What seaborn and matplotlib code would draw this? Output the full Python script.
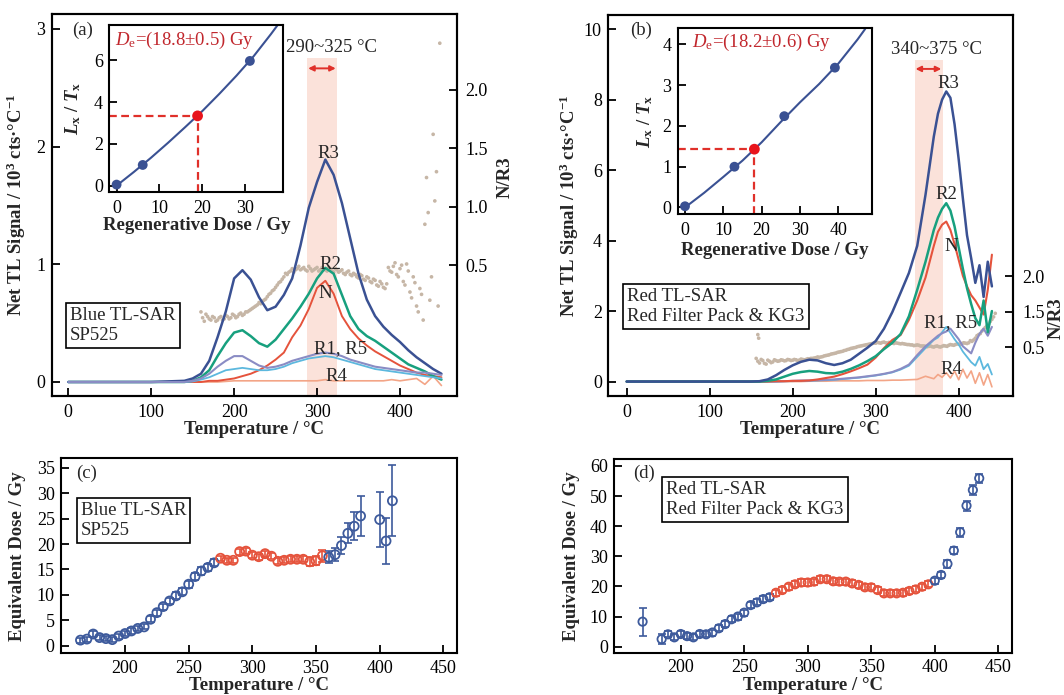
import numpy as np
import matplotlib
matplotlib.use("Agg")
import matplotlib.pyplot as plt
import seaborn as sns

sns.set_style("ticks")
plt.rcParams['font.family'] = ['Liberation Serif', 'DejaVu Serif']
plt.rcParams['mathtext.fontset'] = 'custom'
plt.rcParams['mathtext.rm'] = 'Liberation Serif'
plt.rcParams['mathtext.it'] = 'Liberation Serif:italic'
plt.rcParams['mathtext.bf'] = 'Liberation Serif:bold'
plt.rcParams['mathtext.bfit'] = 'Liberation Serif:italic:bold'

# ---------------- data: panel (a) glow curves ----------------
t_a = [0, 100, 140, 150, 160, 170, 180, 190, 200, 210, 220, 230, 240, 250, 260, 270, 280,
       290, 300, 310, 320, 330, 340, 350, 360, 370, 380, 390, 400, 410, 420, 430, 440, 450]
r3_a = [0, 0, 0.01, 0.03, 0.07, 0.18, 0.38, 0.60, 0.88, 0.95, 0.87, 0.72, 0.61, 0.64, 0.74, 0.88,
        1.16, 1.48, 1.70, 1.89, 1.76, 1.52, 1.22, 0.92, 0.70, 0.56, 0.47, 0.40, 0.34, 0.27, 0.21,
        0.16, 0.11, 0.07]
r2_a = [0, 0, 0, 0.01, 0.04, 0.10, 0.22, 0.33, 0.42, 0.44, 0.39, 0.33, 0.30, 0.36, 0.45, 0.54,
        0.64, 0.75, 0.88, 0.97, 0.92, 0.74, 0.56, 0.45, 0.39, 0.35, 0.30, 0.25, 0.20, 0.15, 0.12,
        0.09, 0.05, 0.02]
n_a = [0, 0, 0, 0, 0, 0.01, 0.01, 0.02, 0.03, 0.05, 0.07, 0.10, 0.14, 0.19, 0.25, 0.38, 0.48,
       0.62, 0.80, 0.86, 0.75, 0.56, 0.45, 0.37, 0.31, 0.26, 0.22, 0.18, 0.14, 0.11, 0.08, 0.06,
       0.05, 0.04]
r1_a = [0, 0, 0, 0.01, 0.03, 0.07, 0.13, 0.18, 0.22, 0.22, 0.18, 0.14, 0.12, 0.13, 0.15, 0.18,
        0.20, 0.22, 0.24, 0.25, 0.24, 0.22, 0.19, 0.17, 0.15, 0.13, 0.12, 0.11, 0.10, 0.09, 0.08,
        0.08, 0.07, 0.06]
r5_a = [0, 0, 0, 0.005, 0.02, 0.04, 0.07, 0.10, 0.11, 0.12, 0.11, 0.10, 0.10, 0.11, 0.13, 0.16,
        0.18, 0.20, 0.21, 0.22, 0.21, 0.19, 0.17, 0.15, 0.13, 0.11, 0.10, 0.09, 0.08, 0.07, 0.06,
        0.05, 0.04, 0.03]
r4_a = [0, 0, 0, 0, 0, 0, 0, 0.005, 0.01, 0.01, 0.01, 0.01, 0.01, 0.01, 0.01, 0.01, 0.01, 0.01,
        0.01, 0.02, 0.01, 0.01, 0.01, 0.01, 0.01, 0.01, 0.01, 0.02, 0.01, 0.02, 0.03, -0.02, 0.05,
        -0.03]

# N/R3 ratio dots (a)
nr_a_t1 = list(range(160, 452, 4))
nr_a_v1 = [0.10, 0.02, 0.06, 0.03, 0.05, 0.03, 0.06, 0.04, 0.06, 0.05, 0.07, 0.06, 0.09, 0.08,
           0.10, 0.12, 0.14, 0.16, 0.17, 0.20, 0.23, 0.26, 0.29, 0.33, 0.36, 0.40, 0.42, 0.45,
           0.44, 0.47, 0.46, 0.48, 0.45, 0.47, 0.46, 0.48, 0.46, 0.47, 0.45, 0.47, 0.44, 0.46,
           0.45, 0.43, 0.44, 0.42, 0.43, 0.40, 0.42, 0.38, 0.40, 0.36, 0.38, 0.33, 0.36, 0.31,
           0.34, 0.45, 0.49, 0.42, 0.47, 0.36, 0.51, 0.27, 0.40, 0.15, 0.30, 0.03, 1.25, 0.20,
           1.62, 1.30, 2.40]
nr_a_t2 = list(range(162, 450, 4))
nr_a_v2 = [0.05, 0.08, 0.04, 0.06, 0.02, 0.05, 0.03, 0.07, 0.04, 0.08, 0.05, 0.08, 0.07, 0.10,
           0.11, 0.13, 0.15, 0.18, 0.19, 0.21, 0.25, 0.28, 0.31, 0.35, 0.38, 0.43, 0.44, 0.47,
           0.46, 0.49, 0.47, 0.46, 0.49, 0.45, 0.47, 0.45, 0.48, 0.46, 0.48, 0.45, 0.47, 0.44,
           0.46, 0.42, 0.45, 0.41, 0.42, 0.39, 0.41, 0.37, 0.39, 0.35, 0.37, 0.32, 0.34, 0.30,
           0.48, 0.44, 0.52, 0.40, 0.50, 0.33, 0.45, 0.22, 0.35, 0.10, 0.25, 0.85, 0.95, 0.40,
           1.05, 0.15]

# ---------------- data: panel (b) glow curves ----------------
t_b = [0, 100, 150, 160, 170, 180, 190, 200, 210, 220, 230, 240, 250, 260, 270, 280, 290, 300,
       310, 320, 330, 340, 350, 360, 370, 375, 380, 385, 390, 395, 400, 405, 410, 415, 420, 425,
       430, 435, 440]
r3_b = [0, 0, 0, 0.01, 0.06, 0.18, 0.33, 0.46, 0.56, 0.62, 0.60, 0.52, 0.47, 0.52, 0.62, 0.79,
        0.96, 1.15, 1.50, 1.97, 2.52, 3.08, 3.85, 5.30, 6.95, 7.60, 8.00, 8.23, 8.05, 7.30, 6.30,
        5.20, 4.15, 3.50, 2.80, 3.30, 2.40, 3.40, 2.70]
r2_b = [0, 0, 0, 0, 0.02, 0.06, 0.14, 0.22, 0.27, 0.30, 0.28, 0.24, 0.23, 0.28, 0.36, 0.46, 0.58,
        0.72, 0.92, 1.10, 1.35, 1.85, 2.60, 3.40, 4.30, 4.65, 4.90, 5.06, 4.85, 4.40, 3.80, 3.20,
        2.65, 2.20, 1.80, 1.60, 2.30, 1.40, 2.00]
n_b = [0, 0, 0, 0, 0, 0.01, 0.01, 0.02, 0.02, 0.03, 0.06, 0.10, 0.14, 0.21, 0.29, 0.38, 0.48,
       0.68, 0.95, 1.18, 1.32, 1.75, 2.30, 2.95, 3.85, 4.25, 4.45, 4.54, 4.30, 3.90, 3.45, 3.00,
       2.70, 2.45, 2.30, 2.10, 1.90, 2.60, 3.60]
r1_b = [0, 0, 0, 0, 0, 0, 0.01, 0.02, 0.03, 0.03, 0.04, 0.05, 0.06, 0.08, 0.10, 0.12, 0.15, 0.18,
        0.22, 0.27, 0.36, 0.48, 0.75, 1.00, 1.20, 1.30, 1.37, 1.42, 1.50, 1.35, 1.20, 1.00, 0.90,
        0.80, 1.10, 1.35, 1.50, 1.30, 1.55]
r5_b = [0, 0, 0, 0, 0, 0, 0.01, 0.01, 0.02, 0.02, 0.03, 0.04, 0.05, 0.07, 0.09, 0.11, 0.14, 0.17,
        0.21, 0.26, 0.34, 0.45, 0.70, 0.95, 1.18, 1.25, 1.40, 1.55, 1.38, 1.20, 1.05, 0.85, 0.70,
        0.55, 0.45, 0.70, 0.35, 0.50, 0.20]
r4_b = [0, 0, 0, 0, 0, 0, 0, 0, 0, 0.01, 0.01, 0.01, 0.02, 0.02, 0.02, 0.02, 0.03, 0.03, 0.03,
        0.04, 0.04, 0.05, 0.06, 0.15, 0.08, 0.20, 0.12, 0.25, 0.10, 0.30, 0.05, 0.35, 0.10, 0.30,
        -0.05, 0.25, -0.10, 0.20, -0.15]

nr_b_t1 = list(range(156, 448, 4))
nr_b_v1 = [0.18, 0.05, 0.12, 0.02, 0.10, 0.08, 0.12, 0.11, 0.13, 0.12, 0.14, 0.13, 0.14, 0.13,
           0.15, 0.15, 0.17, 0.18, 0.20, 0.21, 0.23, 0.26, 0.28, 0.31, 0.33, 0.36, 0.38, 0.41,
           0.44, 0.47, 0.49, 0.52, 0.54, 0.56, 0.58, 0.60, 0.61, 0.62, 0.63, 0.62, 0.63, 0.61,
           0.62, 0.60, 0.60, 0.58, 0.57, 0.56, 0.55, 0.55, 0.53, 0.52, 0.52, 0.51, 0.52, 0.51,
           0.52, 0.53, 0.55, 0.56, 0.57, 0.58, 0.60, 0.61, 0.62, 0.66, 0.75, 0.85, 0.95, 1.05,
           1.15, 1.28, 1.45]
nr_b_t2 = list(range(158, 446, 4))
nr_b_v2 = [0.10, 0.15, 0.04, 0.13, 0.06, 0.14, 0.10, 0.14, 0.11, 0.15, 0.12, 0.15, 0.12, 0.16,
           0.14, 0.17, 0.18, 0.19, 0.22, 0.22, 0.25, 0.27, 0.30, 0.32, 0.35, 0.37, 0.40, 0.43,
           0.46, 0.48, 0.51, 0.53, 0.55, 0.57, 0.59, 0.61, 0.63, 0.61, 0.64, 0.61, 0.62, 0.60,
           0.61, 0.59, 0.59, 0.57, 0.56, 0.54, 0.56, 0.53, 0.53, 0.51, 0.53, 0.50, 0.53, 0.50,
           0.54, 0.52, 0.57, 0.55, 0.59, 0.57, 0.62, 0.60, 0.68, 0.70, 0.82, 0.88, 1.00, 1.10,
           1.22, 1.35]
nr_b_out_t = [158, 159, 166]
nr_b_out_v = [0.85, 0.75, 1.66]

# ---------------- data: dose-response insets ----------------
dose_a = [0, 6.1, 31.1]
lt_a = [0.05, 0.99, 5.97]
fit_a_x = [0, 4, 8, 12, 16, 20, 24, 28, 32, 36, 37.7]
fit_a_y = [0, 0.65, 1.33, 2.05, 2.80, 3.57, 4.40, 5.27, 6.20, 7.25, 7.72]
de_a, ltn_a = 18.9, 3.34

dose_b = [0, 12.9, 25.9, 39.1]
lt_b = [0.03, 1.0, 2.24, 3.43]
fit_b_x = [0, 5, 10, 15, 20, 25, 30, 35, 40, 45, 47]
fit_b_y = [0, 0.36, 0.75, 1.15, 1.60, 2.10, 2.58, 3.03, 3.53, 4.12, 4.38]
de_b, ltn_b = 18.1, 1.43

# ---------------- data: panel (c) De plateau ----------------
c_t_blue1 = list(range(165, 275, 5))
c_de_blue1 = [1.1, 1.3, 2.3, 1.6, 1.4, 1.2, 1.9, 2.4, 2.9, 3.4, 3.7, 5.2, 6.5, 7.7, 8.8, 9.8,
              10.6, 12.1, 13.6, 14.7, 15.4, 16.3]
c_err_blue1 = [0.5] * 11 + [0.6] * 4 + [0.7] * 7
c_t_red = list(range(275, 360, 5))
c_de_red = [17.2, 16.8, 16.8, 18.5, 18.6, 17.8, 17.5, 18.1, 17.6, 16.6, 16.8, 17.0, 17.0, 17.0,
            16.5, 16.7, 17.7]
c_err_red = [0.5, 0.5, 0.5, 0.6, 0.6, 0.6, 0.6, 0.6, 0.6, 0.6, 0.6, 0.6, 0.6, 0.6, 0.9, 0.9, 1.2]
c_t_blue2 = [360, 365, 370, 375, 380, 385, 400, 405, 410]
c_de_blue2 = [17.4, 17.9, 19.7, 22.1, 23.5, 25.5, 24.8, 20.6, 28.5]
c_err_blue2 = [1.2, 1.3, 1.6, 2.0, 2.7, 4.0, 5.4, 4.6, 7.0]

# ---------------- data: panel (d) De plateau ----------------
d_t_blue1 = [170] + list(range(185, 275, 5))
d_de_blue1 = [8.3, 2.5, 4.1, 3.1, 4.2, 3.5, 3.1, 4.2, 4.1, 4.7, 6.1, 7.5, 9.1, 10.0, 11.3, 13.8,
              14.7, 15.8, 16.4]
d_err_blue1 = [4.6, 1.6] + [1.0] * 17
d_t_red = list(range(275, 400, 5))
d_de_red = [17.9, 18.8, 19.9, 20.7, 21.3, 21.3, 21.6, 22.4, 22.4, 21.7, 21.6, 21.6, 21.0, 20.5,
            19.7, 19.7, 18.8, 17.7, 17.7, 17.7, 17.9, 18.5, 19.0, 19.9, 20.7]
d_err_red = [1.0] * 25
d_t_blue2 = list(range(400, 440, 5))
d_de_blue2 = [21.9, 23.8, 27.5, 31.9, 38.0, 46.8, 52.0, 55.9]
d_err_blue2 = [1.0, 1.0, 1.3, 1.3, 1.5, 1.6, 1.6, 1.5]

# ---------------- styles ----------------
C_R3 = "#3a5193"
C_R2 = "#17a07e"
C_N = "#e5533c"
C_R1 = "#8a8cc4"
C_R5 = "#5cb8de"
C_R4 = "#f3a587"
C_DOT = "#c6b6a6"
C_SHADE = "#fbe2da"
C_RED = "#e0302a"
C_DE = "#c1272d"
C_BLUE = "#3d5a9c"
C_PTRED = "#e8141c"

FS_TICK = 13
FS_LAB = 13.5
FS_TXT = 13.5

W, H = 1064, 695
fig = plt.figure(figsize=(W / 100, H / 100), dpi=100)


def fpos(l, t, r, b):
    return [l / W, (H - b) / H, (r - l) / W, (b - t) / H]


def style_axis(ax, left=True, bottom=True, right=False, xpad=6):
    for s in ax.spines.values():
        s.set_linewidth(1.5)
        s.set_color("black")
    ax.tick_params(axis="both", direction="in", length=6, width=1.3, labelsize=FS_TICK,
                   colors="black", top=False, right=right, left=left, bottom=bottom)
    ax.tick_params(axis="y", pad=4.5)
    ax.tick_params(axis="x", pad=xpad)


def draw_tl(ax, ax2, t, curves, xlim, ylim, yticks, shade, shade_top, arrow_y, range_txt,
            range_xy, labels, box_txt, box_xy, letter, letter_xy, ylab_x, r_coords):
    ax.set_zorder(ax2.get_zorder() + 1)
    ax.patch.set_visible(False)
    ax2.axvspan(shade[0], shade[1], ymin=0, ymax=shade_top, color=C_SHADE, lw=0, zorder=0)
    for y, c, lw in curves:
        sns.lineplot(x=t, y=y, ax=ax, color=c, linewidth=lw, sort=False, estimator=None)
    ax.set_xlim(*xlim)
    ax.set_ylim(*ylim)
    ax.set_xticks([0, 100, 200, 300, 400])
    ax.set_yticks(yticks)
    ax.set_xlabel("Temperature / °C", fontsize=FS_LAB, fontweight="bold")
    ax.set_ylabel(r"Net TL Signal / 10$^{\mathbf{3}}$ cts·°C$^{\mathbf{-1}}$",
                  fontsize=FS_LAB, fontweight="bold")
    ax.xaxis.set_label_coords(0.5, -0.066)
    ax.yaxis.set_label_coords(ylab_x, 0.5)
    style_axis(ax)
    style_axis(ax2, left=False, bottom=False, right=True)
    ax2.tick_params(axis="y", pad=6.5)
    ax2.set_ylabel("N/R3", fontsize=FS_LAB, fontweight="bold", rotation=90)
    ax2.yaxis.set_label_coords(*r_coords)
    ax.annotate("", xy=(shade[0] + 1, arrow_y), xytext=(shade[1] - 2, arrow_y),
                arrowprops=dict(arrowstyle="<|-|>", color=C_RED, lw=1.4, mutation_scale=8,
                                shrinkA=0, shrinkB=0))
    ax.text(range_xy[0], range_xy[1], range_txt, fontsize=FS_TXT, ha="center", va="center")
    for s, (x, y) in labels:
        ax.text(x, y, s, fontsize=FS_TXT, ha="center", va="center")
    ax.text(box_xy[0], box_xy[1], box_txt, transform=ax.transAxes, fontsize=FS_TXT,
            ha="left", va="top", linespacing=1.2,
            bbox=dict(boxstyle="square,pad=0.22", fc="white", ec="black", lw=1.2))
    ax.text(letter_xy[0], letter_xy[1], letter, transform=ax.transAxes, fontsize=FS_TXT,
            ha="center", va="center")


# ================= panel (a) =================
ax_a = fig.add_axes(fpos(51.7, 14, 456.7, 396))
ax_a2 = ax_a.twinx()
for tt, vv in [(nr_a_t1, nr_a_v1), (nr_a_t2, nr_a_v2)]:
    sns.scatterplot(x=tt, y=vv, ax=ax_a2, color=C_DOT, s=7, edgecolor="none", zorder=2)
ax_a2.set_ylim(-0.62, 2.65)
ax_a2.set_yticks([0.5, 1.0, 1.5, 2.0])
ax_a2.set_yticklabels(["0.5", "1.0", "1.5", "2.0"])
draw_tl(ax_a, ax_a2, t_a,
        [(r4_a, C_R4, 1.2), (n_a, C_N, 1.4), (r2_a, C_R2, 1.8), (r3_a, C_R3, 1.8),
         (r5_a, C_R5, 1.3), (r1_a, C_R1, 1.5)],
        (-20.0, 468.4), (-0.119, 3.127), [0, 1, 2, 3],
        (288.3, 324.5), 0.884, 2.665, "290~325 °C", (318, 2.84),
        [("R3", (313.6, 1.94)), ("R2", (315.6, 1.0)), ("N", (309.6, 0.75)),
         ("R1, R5", (328.6, 0.286)), ("R4", (323.6, 0.045))],
        "Blue TL-SAR\nSP525", (0.045, 0.232), "(a)", (0.075, 0.958), -0.058, (1.099, 0.573))

# ================= panel (b) =================
ax_b = fig.add_axes(fpos(608, 15, 1013, 396))
ax_b2 = ax_b.twinx()
rp_v = [-20.0, 0.5, 1.5, 20.0]
rp_px = [347 + 20.5 * 35.5, 347.0, 311.5, 311.5 - 18.5 * 71]


def _fwd(v):
    return -np.interp(v, rp_v, rp_px)


def _inv(p):
    return np.interp(-np.asarray(p), rp_px[::-1], rp_v[::-1])


ax_b2.set_yscale("function", functions=(_fwd, _inv))
for tt, vv in [(nr_b_t1, nr_b_v1), (nr_b_t2, nr_b_v2), (nr_b_out_t, nr_b_out_v)]:
    sns.scatterplot(x=tt, y=vv, ax=ax_b2, color=C_DOT, s=7, edgecolor="none", zorder=2)
ax_b2.set_ylim(-0.88, 5.68)
ax_b2.set_yticks([0.5, 1.5, 2.0])
ax_b2.set_yticklabels(["0.5", "1.5", "2.0"])
ax_b2.yaxis.set_minor_locator(matplotlib.ticker.NullLocator())
draw_tl(ax_b, ax_b2, t_b,
        [(r4_b, C_R4, 1.2), (r5_b, C_R5, 1.3), (r1_b, C_R1, 1.5), (n_b, C_N, 1.5),
         (r2_b, C_R2, 1.8), (r3_b, C_R3, 1.8)],
        (-22.5, 465.4), (-0.41, 10.4), [0, 2, 4, 6, 8, 10],
        (347, 381), 0.882, 8.87, "340~375 °C", (372.7, 9.41),
        [("R3", (388, 8.47)), ("R2", (385.5, 5.3)), ("N", (391.5, 3.83)),
         ("R1, R5", (390, 1.67)), ("R4", (391.5, 0.33))],
        "Red TL-SAR\nRed Filter Pack & KG3", (0.047, 0.283), "(b)", (0.081, 0.961), -0.067,
        (1.086, 0.205))


# ================= insets =================
def draw_inset(pos, dose, lt, fx, fy, de, ltn, xlim, ylim, xticks, yticks, de_txt, de_xy, ylab_x):
    axi = fig.add_axes(pos)
    axi.set_zorder(5)
    axi.set_xlim(*xlim)
    axi.set_ylim(*ylim)
    sns.lineplot(x=fx, y=fy, ax=axi, color=C_R3, linewidth=1.5, sort=False, estimator=None)
    axi.plot([xlim[0], de], [ltn, ltn], color=C_RED, lw=1.6, ls=(0, (3.5, 2)))
    axi.plot([de, de], [ylim[0], ltn], color=C_RED, lw=1.6, ls=(0, (3.5, 2)))
    sns.scatterplot(x=dose, y=lt, ax=axi, color=C_R3, s=50, edgecolor="none", zorder=4)
    sns.scatterplot(x=[de], y=[ltn], ax=axi, color=C_PTRED, s=60, edgecolor="none", zorder=5)
    axi.set_xticks(xticks)
    axi.set_yticks(yticks)
    style_axis(axi)
    axi.set_xlabel("Regenerative Dose / Gy", fontsize=FS_LAB, fontweight="bold")
    axi.set_ylabel(r"$\mathbfit{L}_{\mathbf{x}}$ / $\mathbfit{T}_{\mathbf{x}}$",
                   fontsize=FS_LAB, fontweight="bold")
    axi.yaxis.set_label_coords(ylab_x, 0.5)
    axi.xaxis.set_label_coords(0.5, -0.15)
    axi.text(de_xy[0], de_xy[1], de_txt, fontsize=FS_TXT, color=C_DE, ha="left", va="center")
    return axi


draw_inset(fpos(109.3, 25, 283.3, 191.7), dose_a, lt_a, fit_a_x, fit_a_y, de_a, ltn_a,
           (-1.7, 38.9), (-0.29, 7.69), [0, 10, 20, 30], [0, 2, 4, 6],
           r"$D_{\mathrm{e}}$=(18.8±0.5) Gy", (-0.4, 6.97), -0.15)
draw_inset(fpos(677.7, 27.7, 871.7, 214), dose_b, lt_b, fit_b_x, fit_b_y, de_b, ltn_b,
           (-1.9, 48.7), (-0.16, 4.41), [0, 10, 20, 30, 40], [0, 1, 2, 3, 4],
           r"$D_{\mathrm{e}}$=(18.2±0.6) Gy", (1.8, 4.06), -0.117)


# ================= panels (c) & (d) =================
def draw_de(pos, groups, xlim, ylim, yticks, box_txt, box_xy, letter, letter_xy, ylab_x, ms):
    ax = fig.add_axes(pos)
    for t, v, e, c in groups:
        ax.errorbar(t, v, yerr=e, fmt="none", ecolor=c, elinewidth=1.2, capsize=3,
                    capthick=1.2, zorder=2)
        sns.scatterplot(x=t, y=v, ax=ax, marker="o", s=ms, color=c, facecolor="none",
                        edgecolor=c, linewidth=1.3, zorder=3)
    ax.set_xlim(*xlim)
    ax.set_ylim(*ylim)
    ax.set_xticks([200, 250, 300, 350, 400, 450])
    ax.set_yticks(yticks)
    style_axis(ax, xpad=4.5)
    ax.set_xlabel("Temperature / °C", fontsize=FS_LAB, fontweight="bold")
    ax.set_ylabel("Equivalent Dose / Gy", fontsize=FS_LAB, fontweight="bold")
    ax.xaxis.set_label_coords(0.5, -0.122)
    ax.yaxis.set_label_coords(ylab_x, 0.5)
    ax.text(box_xy[0], box_xy[1], box_txt, transform=ax.transAxes, fontsize=FS_TXT,
            ha="left", va="top", linespacing=1.2,
            bbox=dict(boxstyle="square,pad=0.22", fc="white", ec="black", lw=1.2))
    ax.text(letter_xy[0], letter_xy[1], letter, transform=ax.transAxes, fontsize=FS_TXT,
            ha="center", va="center")
    return ax


draw_de(fpos(61, 458.3, 456.7, 653.3),
        [(c_t_blue1, c_de_blue1, c_err_blue1, C_BLUE), (c_t_red, c_de_red, c_err_red, C_N),
         (c_t_blue2, c_de_blue2, c_err_blue2, C_BLUE)],
        (149.7, 460.5), (-1.49, 36.85), [0, 5, 10, 15, 20, 25, 30, 35],
        "Blue TL-SAR\nSP525", (0.05, 0.776), "(c)", (0.065, 0.923), -0.088, 42)
draw_de(fpos(614, 459, 1012, 653),
        [(d_t_blue1, d_de_blue1, d_err_blue1, C_BLUE), (d_t_red, d_de_red, d_err_red, C_N),
         (d_t_blue2, d_de_blue2, d_err_blue2, C_BLUE)],
        (147.5, 460.8), (-2.1, 62.3), [0, 10, 20, 30, 40, 50, 60],
        "Red TL-SAR\nRed Filter Pack & KG3", (0.131, 0.887), "(d)", (0.075, 0.926), -0.085, 36)

fig.savefig("out.png", dpi=100)
